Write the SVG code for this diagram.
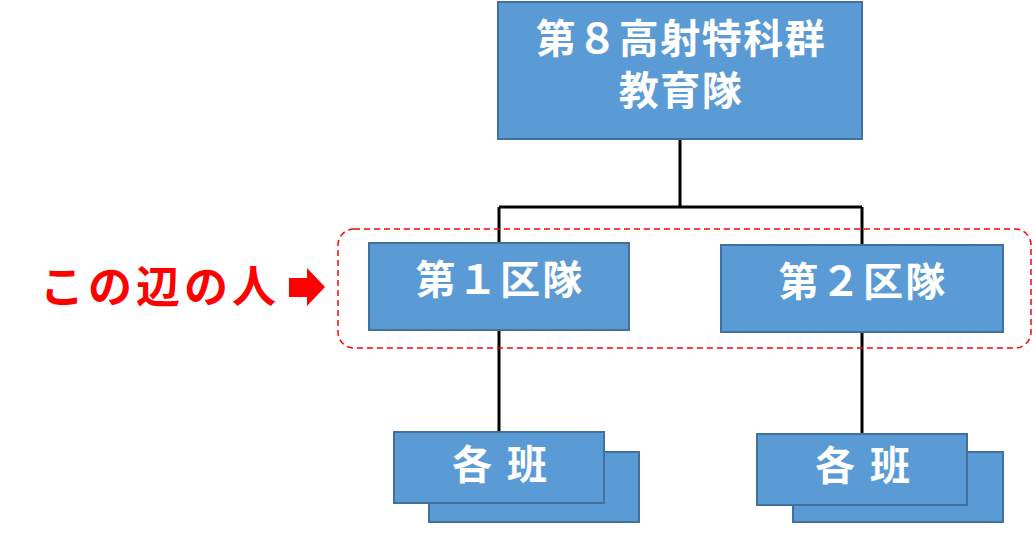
<svg xmlns="http://www.w3.org/2000/svg" width="1033" height="541" viewBox="0 0 1033 541">
<style>
.box{fill:#5B9BD5;stroke:#41719C;stroke-width:2}
.t{fill:#fff;font-family:"Noto Sans CJK JP","Noto Sans CJK SC",sans-serif;font-weight:bold;font-size:40px;text-anchor:middle}
.ln{stroke:#000;stroke-width:3;fill:none}
</style>
<rect width="1033" height="541" fill="#fff"/>
<g id="connectors">
<path class="ln" d="M680,139 V207 M499,207 H862 M499,207 V243 M862,207 V245 M499,330 V432 M862,332 V434"/>
</g>
<rect id="highlight" x="338" y="229" width="693" height="119" rx="16" fill="none" stroke="#FF0000" stroke-width="1.5" stroke-dasharray="6,4"/>
<g id="label">
<text x="40" y="303" font-family="'Noto Sans CJK JP',sans-serif" font-weight="bold" font-size="44" fill="#FF0000" letter-spacing="4">この辺の人</text>
<polygon points="289,278 307,278 307,268 325,287 307,306 307,297 289,297" fill="#FF0000"/>
</g>
<g id="top">
<rect class="box" x="498" y="2" width="364" height="137"/>
<text class="t" x="681" y="53" letter-spacing="1.5">第８高射特科群</text>
<text class="t" x="681" y="105" letter-spacing="1.5">教育隊</text>
</g>
<g id="ku1">
<rect class="box" x="369" y="243" width="260" height="87"/>
<text class="t" x="500" y="294" letter-spacing="2.3">第１区隊</text>
</g>
<g id="ku2">
<rect class="box" x="721" y="245" width="282" height="87"/>
<text class="t" x="863" y="296" letter-spacing="2.3">第２区隊</text>
</g>
<g id="han1">
<rect class="box" x="429" y="452" width="210" height="70"/>
<rect class="box" x="394" y="432" width="210" height="71"/>
<text class="t" x="501" y="479" letter-spacing="3">各 班</text>
</g>
<g id="han2">
<rect class="box" x="793" y="452" width="210" height="70"/>
<rect class="box" x="757" y="434" width="210" height="71"/>
<text class="t" x="864" y="480" letter-spacing="3">各 班</text>
</g>
</svg>
